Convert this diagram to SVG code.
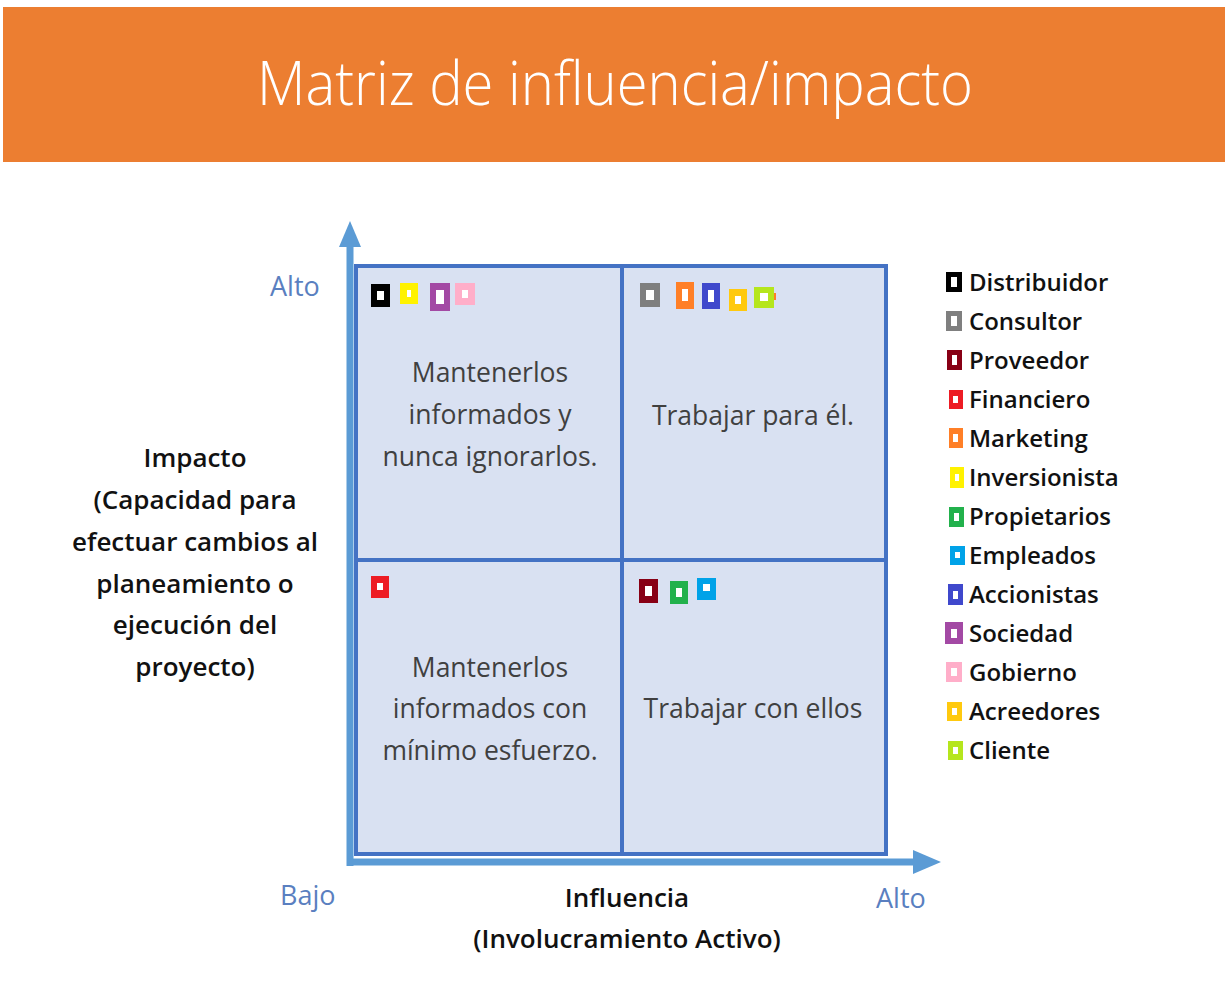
<svg xmlns="http://www.w3.org/2000/svg" width="1225" height="983" viewBox="0 0 1225 983">
<style>
.title{font-family:"Open Sans","Liberation Sans",sans-serif;font-weight:300;font-size:60px;fill:#ffffff}
.q{font-family:"Open Sans","Liberation Sans",sans-serif;font-size:26.5px;fill:#404040;text-anchor:middle}
.lbl{font-family:"Open Sans","Liberation Sans",sans-serif;font-weight:600;font-size:26px;fill:#111111;text-anchor:middle}
.ax{font-family:"Open Sans","Liberation Sans",sans-serif;font-size:27px;fill:#5a7fc0}
.leg{font-family:"Open Sans","Liberation Sans",sans-serif;font-weight:600;font-size:24px;fill:#111111}
.cell{fill:#d9e1f2;stroke:#4472c4;stroke-width:4}
.axis{stroke:#5b9bd5;stroke-width:7;fill:none}
.in{fill:#ffffff}
</style>
<rect x="0" y="0" width="1225" height="983" fill="#ffffff"/>
<rect x="3" y="7" width="1222" height="155" fill="#ec7e31"/>
<text class="title" x="615" y="105" text-anchor="middle" textLength="716" lengthAdjust="spacingAndGlyphs">Matriz de influencia/impacto</text>

<g id="connectors">
  <path class="axis" d="M350,866 V245"/>
  <polygon points="350,221 339,247 361,247" fill="#5b9bd5"/>
  <path class="axis" d="M347,862 H915"/>
  <polygon points="941,862 913,850 913,874" fill="#5b9bd5"/>
</g>

<g id="q-tl"><rect class="cell" x="356" y="266" width="266" height="294"/>
  <text class="q" x="490" y="382">Mantenerlos</text>
  <text class="q" x="490" y="424">informados y</text>
  <text class="q" x="490" y="466">nunca ignorarlos.</text></g>
<g id="q-tr"><rect class="cell" x="622" y="266" width="264" height="294"/>
  <text class="q" x="753" y="425">Trabajar para él.</text></g>
<g id="q-bl"><rect class="cell" x="356" y="560" width="266" height="294"/>
  <text class="q" x="490" y="677">Mantenerlos</text>
  <text class="q" x="490" y="718">informados con</text>
  <text class="q" x="490" y="760">mínimo esfuerzo.</text></g>
<g id="q-br"><rect class="cell" x="622" y="560" width="264" height="294"/>
  <text class="q" x="753" y="718">Trabajar con ellos</text></g>

<g id="markers">
  <rect x="371" y="284" width="19" height="23" fill="#000000"/><rect class="in" x="377" y="291" width="7" height="9"/>
  <rect x="400" y="283" width="18" height="21" fill="#fff200"/><rect class="in" x="407" y="290" width="4" height="7"/>
  <rect x="430" y="283" width="20" height="28" fill="#a349a4"/><rect class="in" x="436" y="290" width="8" height="14"/>
  <rect x="455" y="283" width="20" height="22" fill="#ffaec9"/><rect class="in" x="462" y="290" width="6" height="8"/>
  <rect x="640" y="283" width="20" height="24" fill="#7f7f7f"/><rect class="in" x="646" y="290" width="8" height="10"/>
  <rect x="676" y="282" width="18" height="27" fill="#ff7f27"/><rect class="in" x="682" y="289" width="6" height="12"/>
  <rect x="702" y="283" width="18" height="26" fill="#3f48cc"/><rect class="in" x="708" y="290" width="6" height="12"/>
  <rect x="729" y="289" width="18" height="22" fill="#ffc90e"/><rect class="in" x="735" y="296" width="6" height="8"/>
  <rect x="754" y="287" width="20" height="21" fill="#b5e61d"/><rect class="in" x="760" y="293" width="8" height="8"/>
  <rect x="774" y="293" width="2" height="7" fill="#ff7f27"/>
  <rect x="371" y="576" width="18" height="22" fill="#ed1c24"/><rect class="in" x="377" y="583" width="6" height="7"/>
  <rect x="639" y="579" width="19" height="24" fill="#880015"/><rect class="in" x="645" y="586" width="7" height="10"/>
  <rect x="670" y="581" width="18" height="23" fill="#22b14c"/><rect class="in" x="676" y="588" width="6" height="9"/>
  <rect x="697" y="578" width="19" height="22" fill="#00a2e8"/><rect class="in" x="703" y="584" width="7" height="7"/>
</g>

<g id="axis-labels">
  <text class="ax" x="270" y="296">Alto</text>
  <text class="ax" x="280" y="905">Bajo</text>
  <text class="ax" x="876" y="908">Alto</text>
  <text class="lbl" x="627" y="907">Influencia</text>
  <text class="lbl" x="627" y="948">(Involucramiento Activo)</text>
  <text class="lbl" x="195" y="467">Impacto</text>
  <text class="lbl" x="195" y="509">(Capacidad para</text>
  <text class="lbl" x="195" y="551">efectuar cambios al</text>
  <text class="lbl" x="195" y="593">planeamiento o</text>
  <text class="lbl" x="195" y="634">ejecución del</text>
  <text class="lbl" x="195" y="676">proyecto)</text>
</g>

<g id="legend">
  <g id="leg-distribuidor"><rect x="946" y="272" width="16" height="20" fill="#000000"/><rect class="in" x="951" y="277" width="6" height="10"/><text class="leg" x="969" y="291">Distribuidor</text></g>
  <g id="leg-consultor"><rect x="946" y="311" width="16" height="20" fill="#7f7f7f"/><rect class="in" x="951" y="316" width="6" height="10"/><text class="leg" x="969" y="330">Consultor</text></g>
  <g id="leg-proveedor"><rect x="947" y="350" width="15" height="20" fill="#880015"/><rect class="in" x="952" y="355" width="5" height="10"/><text class="leg" x="969" y="369">Proveedor</text></g>
  <g id="leg-financiero"><rect x="949" y="390" width="14" height="19" fill="#ed1c24"/><rect class="in" x="953" y="396" width="5" height="7"/><text class="leg" x="969" y="408">Financiero</text></g>
  <g id="leg-marketing"><rect x="949" y="428" width="14" height="20" fill="#ff7f27"/><rect class="in" x="953" y="434" width="5" height="8"/><text class="leg" x="969" y="447">Marketing</text></g>
  <g id="leg-inversionista"><rect x="950" y="467" width="14" height="21" fill="#fff200"/><rect class="in" x="955" y="474" width="4" height="7"/><text class="leg" x="969" y="486">Inversionista</text></g>
  <g id="leg-propietarios"><rect x="949" y="507" width="15" height="20" fill="#22b14c"/><rect class="in" x="954" y="513" width="5" height="8"/><text class="leg" x="969" y="525">Propietarios</text></g>
  <g id="leg-empleados"><rect x="950" y="546" width="15" height="19" fill="#00a2e8"/><rect class="in" x="955" y="552" width="5" height="6"/><text class="leg" x="969" y="564">Empleados</text></g>
  <g id="leg-accionistas"><rect x="948" y="584" width="15" height="21" fill="#3f48cc"/><rect class="in" x="953" y="591" width="5" height="8"/><text class="leg" x="969" y="603">Accionistas</text></g>
  <g id="leg-sociedad"><rect x="945" y="622" width="18" height="22" fill="#a349a4"/><rect class="in" x="951" y="629" width="6" height="9"/><text class="leg" x="969" y="642">Sociedad</text></g>
  <g id="leg-gobierno"><rect x="946" y="662" width="16" height="20" fill="#ffaec9"/><rect class="in" x="951" y="668" width="6" height="8"/><text class="leg" x="969" y="681">Gobierno</text></g>
  <g id="leg-acreedores"><rect x="947" y="702" width="15" height="19" fill="#ffc90e"/><rect class="in" x="952" y="708" width="5" height="7"/><text class="leg" x="969" y="720">Acreedores</text></g>
  <g id="leg-cliente"><rect x="948" y="741" width="15" height="19" fill="#b5e61d"/><rect class="in" x="953" y="747" width="5" height="7"/><text class="leg" x="969" y="759">Cliente</text></g>
</g>
</svg>
